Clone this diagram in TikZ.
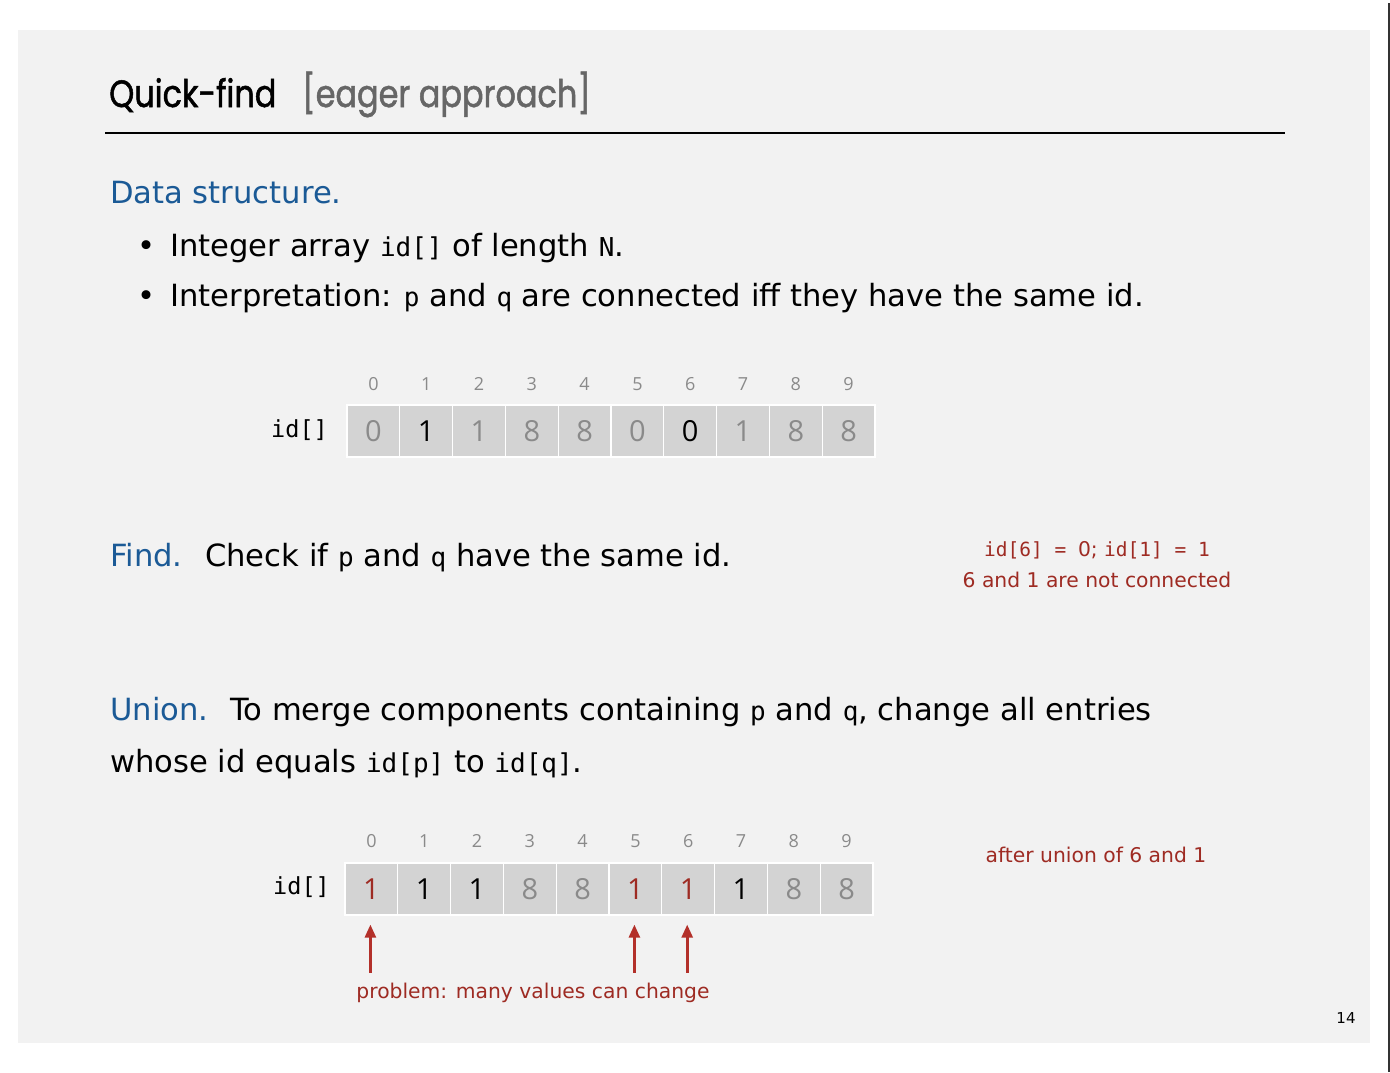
\documentclass[tikz,border=0pt]{standalone}
\usepackage{fontspec}
\setmainfont{DejaVu Sans}
\setmonofont{DejaVu Sans Mono}
\newfontfamily\titlefont[FakeStretch=0.84, FakeBold=1.3]{Poppins}
\newfontfamily\digitfont{Open Sans}
\usepackage{tikz}
\usetikzlibrary{arrows.meta, positioning, calc}

\definecolor{slidebg}{HTML}{F2F2F2}
\definecolor{hdblue}{HTML}{1B5A96}
\definecolor{notered}{HTML}{9E2B23}
\definecolor{arrowred}{HTML}{B3302A}
\definecolor{cellgray}{HTML}{D3D3D3}
\definecolor{idxgray}{HTML}{8A8A8A}
\definecolor{titlegray}{HTML}{666666}

\newcommand{\code}[1]{{\ttfamily\fontsize{26}{30}\selectfont #1}}
\newcommand{\notecode}[1]{{\ttfamily\fontsize{19.5}{24}\selectfont #1}}

\begin{document}
\begin{tikzpicture}[
  x=1pt, y=-1pt,
  txt/.style={anchor=base west, inner sep=0pt, font=\fontsize{30.6}{36}\selectfont},
  head/.style={txt, text=hdblue},
  cell/.style={draw=white, line width=1.2pt, fill=cellgray, minimum width=52.8pt, minimum height=52pt, inner sep=0pt, font=\digitfont\fontsize{29}{34}\selectfont},
  idx/.style={inner sep=0pt, text=idxgray, font=\digitfont\fontsize{18}{22}\selectfont},
  arrname/.style={anchor=east, inner sep=0pt, font=\ttfamily\fontsize{23.5}{28}\selectfont},
  note/.style={inner sep=0pt, text=notered, font=\fontsize{20.3}{24}\selectfont},
  arrow/.style={-{Triangle[length=13pt, width=11pt]}, arrowred, line width=2.6pt}
]
  \useasboundingbox (0,0) rectangle (1390,1072);
  \fill[white] (0,0) rectangle (1390,1072);
  \fill[slidebg] (18,30) rectangle (1370,1043);
  \draw[line width=1.3pt, black!80] (1389,3) -- (1389,1072);

  % title
  \node[anchor=base west, inner sep=0pt, font=\titlefont\fontsize{38}{44}\selectfont] (title) at (109,107) {Quick-find};
  \node[anchor=base west, inner sep=0pt, text=titlegray, font=\titlefont\fontsize{38}{44}\selectfont] (tag) at (302,107) {[eager approach]};
  \draw[line width=1.5pt] (105,133) -- (1285,133);

  % data structure
  \node[head] (ds) at (110,203) {Data structure.};
  \node[txt] (b1) at (137,256) {\textbullet\hspace{15pt}Integer array \code{id[]} of length \code{N}.};
  \node[txt] (b2) at (137,306) {\textbullet\hspace{15pt}Interpretation:\hspace{12pt}\code{p} and \code{q} are connected iff they have the same id.};

  % first array
  \node[arrname] (ida) at (328,430) {id[]};
  \foreach \v/\c [count=\i from 0] in {0/idxgray, 1/black, 1/idxgray, 8/idxgray, 8/idxgray, 0/idxgray, 0/black, 1/idxgray, 8/idxgray, 8/idxgray} {
    \node[cell, text=\c] (c\i) at (373.4+52.8*\i, 431) {\v};
    \node[idx] (ci\i) at (373.4+52.8*\i, 384) {\i};
  }

  % find
  \node[head] (find) at (110,566) {Find.};
  \node[txt] (findtxt) at (205,566) {Check if \code{p} and \code{q} have the same id.};
  \node[note] (n1) at (1097,550) {\notecode{id[6] = }0; \notecode{id[1] = 1}};
  \node[note, below=13pt of n1] (n2) {6 and 1 are not connected};

  % union
  \node[head] (union) at (110,720) {Union.};
  \node[txt] (uniontxt) at (230,720) {To merge components containing \code{p} and \code{q}, change all entries};
  \node[txt] (uniontxt2) at (110,772) {whose id equals \code{id[p]} to \code{id[q]}.};

  % second array
  \node[arrname] (idb) at (330,887) {id[]};
  \foreach \v/\c [count=\i from 0] in {1/notered, 1/black, 1/black, 8/idxgray, 8/idxgray, 1/notered, 1/notered, 1/black, 8/idxgray, 8/idxgray} {
    \node[cell, text=\c] (d\i) at (371.4+52.8*\i, 889) {\v};
    \node[idx] (di\i) at (371.4+52.8*\i, 841) {\i};
  }
  \node[note] (n3) at (1096,855) {after union of 6 and 1};

  % arrows to changed entries
  \foreach \i in {0,5,6} {
    \coordinate (t\i) at ($(d\i.south)+(-1,57)$);
    \draw[arrow, shorten >=9pt] (t\i) -- ($(d\i.south)+(-1,0)$);
  }
  \node[note] (prob) at (533,993) {problem: many values can change};

  \node[inner sep=0pt, font=\fontsize{15}{18}\selectfont] (page) at (1346,1018) {14};
\end{tikzpicture}
\end{document}
